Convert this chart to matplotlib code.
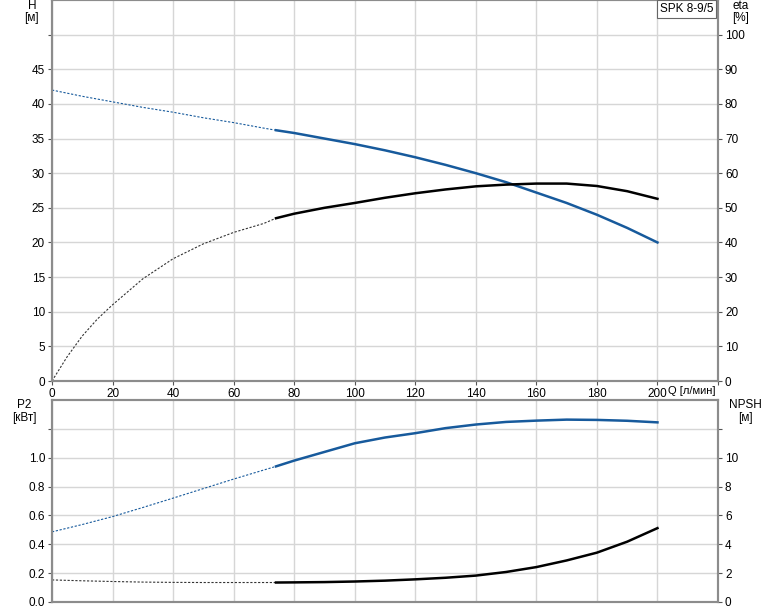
import matplotlib.pyplot as plt
import numpy as np

plt.rcParams['font.family'] = ['Liberation Sans', 'DejaVu Sans']
plt.rcParams['font.size'] = 8

# flow Q [l/min]
q_dash = [0, 10, 20, 30, 40, 50, 60, 70, 74]
q_solid = [74, 80, 90, 100, 110, 120, 130, 140, 150, 160, 170, 180, 190, 200]
q_eta_dash = [0, 5, 10, 15, 20, 30, 40, 50, 60, 70, 74]

# head H [m]
h_dash = [42.0, 41.1, 40.3, 39.5, 38.8, 38.0, 37.3, 36.5, 36.2]
h_solid = [36.2, 35.8, 35.0, 34.2, 33.3, 32.3, 31.2, 30.0, 28.7, 27.2, 25.7, 24.0, 22.1, 20.0]

# efficiency eta [%]
eta_dash = [0, 7.0, 13.0, 17.9, 22.0, 29.5, 35.3, 39.6, 42.9, 45.5, 47.0]
eta_solid = [47.0, 48.3, 50.0, 51.4, 52.9, 54.2, 55.3, 56.2, 56.7, 57.0, 57.0, 56.3, 54.8, 52.6]

# power P2 [kW]
p2_dash = [0.486, 0.537, 0.592, 0.655, 0.72, 0.786, 0.852, 0.915, 0.94]
p2_solid = [0.94, 0.98, 1.04, 1.10, 1.14, 1.17, 1.205, 1.23, 1.248, 1.257, 1.264, 1.262, 1.256, 1.245]

# NPSH [m]
npsh_dash = [1.53, 1.47, 1.42, 1.38, 1.36, 1.35, 1.35, 1.35, 1.35]
npsh_solid = [1.35, 1.36, 1.38, 1.42, 1.48, 1.57, 1.68, 1.83, 2.08, 2.42, 2.88, 3.42, 4.18, 5.12]

BLUE = '#175a9c'
SPINE = '#8c8c8c'
GRID = '#d6d6d6'

fig = plt.figure(figsize=(7.74, 6.11), dpi=100)
ax1 = fig.add_axes([52 / 774, 1 - 381 / 611, 666 / 774, 381 / 611])
ax2 = fig.add_axes([52 / 774, 1 - 602 / 611, 666 / 774, 202 / 611])


def style(ax, yticks, ylabels):
    ax.set_xlim(0, 220)
    ax.set_xticks(np.arange(0, 221, 20))
    ax.set_yticks(yticks)
    ax.set_yticklabels(ylabels)
    ax.grid(True, color=GRID, lw=1)
    ax.set_axisbelow(True)
    for s in ax.spines.values():
        s.set_color(SPINE)
        s.set_linewidth(1.5)
    ax.tick_params(length=3, color='#555555', pad=2, labelsize=8.5)


# --- top: H and eta ---
style(ax1, np.arange(0, 51, 5), [str(v) for v in range(0, 46, 5)] + [''])
ax1.set_ylim(0, 55)
ax1.set_xticklabels([str(v) for v in range(0, 201, 20)] + [''])
ax1.plot(q_dash, h_dash, color=BLUE, lw=0.8, dashes=(2, 1.5))
ax1.plot(q_solid, h_solid, color=BLUE, lw=1.8)

ax1r = ax1.twinx()
ax1r.set_ylim(0, 110)
ax1r.set_yticks(np.arange(0, 101, 10))
ax1r.tick_params(length=3, color='#555555', pad=2, labelsize=8.5)
ax1r.plot(q_eta_dash, eta_dash, color='#333333', lw=0.8, dashes=(2, 1.5))
ax1r.plot(q_solid, eta_solid, color='black', lw=1.8)
for s in ax1r.spines.values():
    s.set_color(SPINE)
    s.set_linewidth(1.5)

ax1r.text(218.5, 109.2, 'SPK 8-9/5', ha='right', va='top', fontsize=8.5,
          bbox=dict(boxstyle='square,pad=0.25', fc='white', ec='#666666', lw=0.8))

# --- bottom: P2 and NPSH ---
style(ax2, np.arange(0, 1.21, 0.2), ['0.0', '0.2', '0.4', '0.6', '0.8', '1.0', ''])
ax2.set_ylim(0, 1.4)
ax2.set_xticklabels([])
ax2.tick_params(axis='x', length=0)
ax2.plot(q_dash, p2_dash, color=BLUE, lw=0.8, dashes=(2, 1.5))
ax2.plot(q_solid, p2_solid, color=BLUE, lw=1.8)

ax2r = ax2.twinx()
ax2r.set_ylim(0, 14)
ax2r.set_yticks(np.arange(0, 13, 2))
ax2r.set_yticklabels(['0', '2', '4', '6', '8', '10', ''])
ax2r.tick_params(length=3, color='#555555', pad=2, labelsize=8.5)
ax2r.plot(q_dash, npsh_dash, color='#333333', lw=0.8, dashes=(2, 1.5))
ax2r.plot(q_solid, npsh_solid, color='black', lw=1.8)
for s in ax2r.spines.values():
    s.set_color(SPINE)
    s.set_linewidth(1.5)

# axis titles
fs = 8.5
fig.text(668 / 774, 1 - 391 / 611, 'Q [л/мин]', ha='left', va='center', fontsize=8)
fig.text(32 / 774, 1 - 6 / 611, 'H', ha='center', va='center', fontsize=fs)
fig.text(31 / 774, 1 - 18 / 611, '[м]', ha='center', va='center', fontsize=fs)
fig.text(741 / 774, 1 - 6 / 611, 'eta', ha='center', va='center', fontsize=fs)
fig.text(741 / 774, 1 - 18 / 611, '[%]', ha='center', va='center', fontsize=fs)
fig.text(24 / 774, 1 - 405 / 611, 'P2', ha='center', va='center', fontsize=fs)
fig.text(24 / 774, 1 - 418 / 611, '[кВт]', ha='center', va='center', fontsize=fs)
fig.text(745 / 774, 1 - 405 / 611, 'NPSH', ha='center', va='center', fontsize=fs)
fig.text(745 / 774, 1 - 418 / 611, '[м]', ha='center', va='center', fontsize=fs)

fig.savefig('out.png', dpi=100)
